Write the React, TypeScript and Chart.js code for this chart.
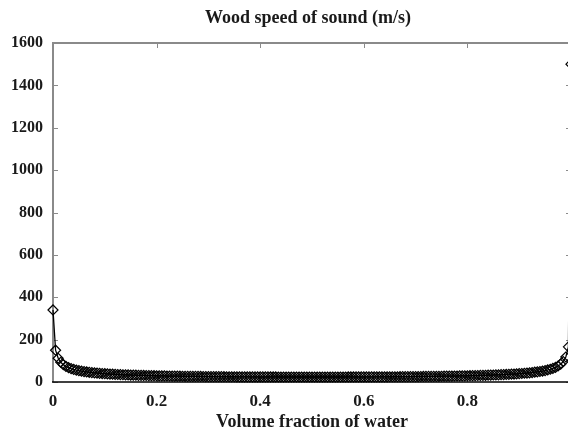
import { useEffect, useRef } from "react";
import { Chart, registerables } from "chart.js";

Chart.register(...registerables);

const chartTitle = "Wood speed of sound (m/s)";
const xAxisTitle = "Volume fraction of water";

const waterFraction = [
  0, 0.005, 0.01, 0.015, 0.02, 0.025, 0.03, 0.035, 0.04, 0.045,
  0.05, 0.055, 0.06, 0.065, 0.07, 0.075, 0.08, 0.085, 0.09, 0.095,
  0.1, 0.105, 0.11, 0.115, 0.12, 0.125, 0.13, 0.135, 0.14, 0.145,
  0.15, 0.155, 0.16, 0.165, 0.17, 0.175, 0.18, 0.185, 0.19, 0.195,
  0.2, 0.205, 0.21, 0.215, 0.22, 0.225, 0.23, 0.235, 0.24, 0.245,
  0.25, 0.255, 0.26, 0.265, 0.27, 0.275, 0.28, 0.285, 0.29, 0.295,
  0.3, 0.305, 0.31, 0.315, 0.32, 0.325, 0.33, 0.335, 0.34, 0.345,
  0.35, 0.355, 0.36, 0.365, 0.37, 0.375, 0.38, 0.385, 0.39, 0.395,
  0.4, 0.405, 0.41, 0.415, 0.42, 0.425, 0.43, 0.435, 0.44, 0.445,
  0.45, 0.455, 0.46, 0.465, 0.47, 0.475, 0.48, 0.485, 0.49, 0.495,
  0.5, 0.505, 0.51, 0.515, 0.52, 0.525, 0.53, 0.535, 0.54, 0.545,
  0.55, 0.555, 0.56, 0.565, 0.57, 0.575, 0.58, 0.585, 0.59, 0.595,
  0.6, 0.605, 0.61, 0.615, 0.62, 0.625, 0.63, 0.635, 0.64, 0.645,
  0.65, 0.655, 0.66, 0.665, 0.67, 0.675, 0.68, 0.685, 0.69, 0.695,
  0.7, 0.705, 0.71, 0.715, 0.72, 0.725, 0.73, 0.735, 0.74, 0.745,
  0.75, 0.755, 0.76, 0.765, 0.77, 0.775, 0.78, 0.785, 0.79, 0.795,
  0.8, 0.805, 0.81, 0.815, 0.82, 0.825, 0.83, 0.835, 0.84, 0.845,
  0.85, 0.855, 0.86, 0.865, 0.87, 0.875, 0.88, 0.885, 0.89, 0.895,
  0.9, 0.905, 0.91, 0.915, 0.92, 0.925, 0.93, 0.935, 0.94, 0.945,
  0.95, 0.955, 0.96, 0.965, 0.97, 0.975, 0.98, 0.985, 0.99, 0.995,
  1,
];

const speedOfSound = [
  340, 150.0, 111.9, 93.3, 81.8, 73.7, 67.7, 63.1, 59.3, 56.1,
  53.4, 51.1, 49.1, 47.4, 45.8, 44.4, 43.1, 42.0, 40.9, 39.9,
  39.1, 38.2, 37.5, 36.8, 36.1, 35.5, 34.9, 34.3, 33.8, 33.3,
  32.9, 32.4, 32.0, 31.6, 31.3, 30.9, 30.6, 30.3, 30.0, 29.7,
  29.4, 29.1, 28.9, 28.6, 28.4, 28.2, 27.9, 27.7, 27.5, 27.3,
  27.2, 27.0, 26.8, 26.6, 26.5, 26.3, 26.2, 26.1, 25.9, 25.8,
  25.7, 25.6, 25.4, 25.3, 25.2, 25.1, 25.0, 24.9, 24.8, 24.8,
  24.7, 24.6, 24.5, 24.4, 24.4, 24.3, 24.2, 24.2, 24.1, 24.1,
  24.0, 24.0, 23.9, 23.9, 23.8, 23.8, 23.8, 23.7, 23.7, 23.7,
  23.7, 23.6, 23.6, 23.6, 23.6, 23.6, 23.6, 23.6, 23.5, 23.5,
  23.5, 23.5, 23.5, 23.6, 23.6, 23.6, 23.6, 23.6, 23.6, 23.6,
  23.7, 23.7, 23.7, 23.7, 23.8, 23.8, 23.8, 23.9, 23.9, 24.0,
  24.0, 24.1, 24.1, 24.2, 24.3, 24.3, 24.4, 24.5, 24.5, 24.6,
  24.7, 24.8, 24.9, 24.9, 25.0, 25.1, 25.2, 25.3, 25.5, 25.6,
  25.7, 25.8, 26.0, 26.1, 26.2, 26.4, 26.5, 26.7, 26.8, 27.0,
  27.2, 27.4, 27.6, 27.8, 28.0, 28.2, 28.4, 28.7, 28.9, 29.2,
  29.4, 29.7, 30.0, 30.3, 30.7, 31.0, 31.4, 31.7, 32.1, 32.5,
  33.0, 33.5, 33.9, 34.5, 35.0, 35.6, 36.2, 36.9, 37.6, 38.4,
  39.3, 40.2, 41.2, 42.2, 43.4, 44.7, 46.2, 47.8, 49.6, 51.7,
  54.0, 56.8, 60.1, 64.1, 69.0, 75.4, 84.0, 96.7, 118.0, 166.0,
  1500,
];

const xTickValues = [0, 0.2, 0.4, 0.6, 0.8, 1];
const yTickValues = [0, 200, 400, 600, 800, 1000, 1200, 1400, 1600];

const FONT = "'Liberation Serif', 'Times New Roman', serif";
const TEXT = "#1a1a1a";
const FRAME_GRAY = "#8a8a8a";

export default function App() {
  const ref = useRef<HTMLCanvasElement | null>(null);

  useEffect(() => {
    document.documentElement.style.overflow = "hidden";
    document.body.style.margin = "0";
    document.body.style.overflow = "hidden";
    const canvas = ref.current;
    if (!canvas) return;

    const framePlugin = {
      id: "framePlugin",
      beforeDatasetsDraw(chart: any) {
        const { ctx, chartArea: a, scales } = chart;
        const xs = scales.x;
        const ys = scales.y;
        ctx.save();
        ctx.strokeStyle = FRAME_GRAY;
        ctx.lineWidth = 1;
        ctx.beginPath();
        for (const v of yTickValues) {
          const py = Math.round(ys.getPixelForValue(v)) + 0.5;
          ctx.moveTo(a.left, py);
          ctx.lineTo(a.left + 5, py);
          ctx.moveTo(a.right, py);
          ctx.lineTo(a.right - 5, py);
        }
        for (const v of xTickValues) {
          const px = Math.round(xs.getPixelForValue(v)) + 0.5;
          ctx.moveTo(px, a.bottom);
          ctx.lineTo(px, a.bottom - 5);
          ctx.moveTo(px, a.top);
          ctx.lineTo(px, a.top + 5);
        }
        ctx.stroke();
        ctx.lineWidth = 2;
        ctx.beginPath();
        ctx.moveTo(a.left, a.bottom);
        ctx.lineTo(a.left, a.top);
        ctx.lineTo(a.right, a.top);
        ctx.lineTo(a.right, a.bottom);
        ctx.stroke();
        ctx.strokeStyle = "#000";
        ctx.lineWidth = 1.5;
        ctx.beginPath();
        ctx.moveTo(a.left - 1, a.bottom);
        ctx.lineTo(a.right, a.bottom);
        ctx.stroke();
        ctx.restore();
      },
      afterDraw(chart: any) {
        const { ctx, chartArea: a } = chart;
        ctx.save();
        ctx.font = `bold 18px ${FONT}`;
        ctx.fillStyle = TEXT;
        ctx.textAlign = "center";
        ctx.textBaseline = "middle";
        ctx.fillText(chartTitle, (a.left + a.right) / 2 - 4, 18);
        ctx.restore();
      },
    };

    const chart = new Chart(canvas, {
      type: "line",
      data: {
        datasets: [
          {
            data: waterFraction.map((x, i) => ({ x, y: speedOfSound[i] })),
            borderColor: "#000",
            borderWidth: 1.3,
            pointStyle: "rectRot",
            pointRadius: 5,
            pointBorderColor: "#000",
            pointBorderWidth: 1.2,
            pointBackgroundColor: "rgba(0,0,0,0)",
            tension: 0,
            clip: false as any,
          },
        ],
      },
      options: {
        animation: false,
        responsive: false,
        devicePixelRatio: 1,
        layout: { padding: { top: 43, right: 8, left: 0, bottom: 0 } },
        plugins: {
          legend: { display: false },
          tooltip: { enabled: false },
          title: { display: false },
        },
        scales: {
          x: {
            type: "linear",
            min: 0,
            max: 1,
            grid: { display: false, drawTicks: false },
            border: { display: false },
            afterBuildTicks: (s: any) => {
              s.ticks = xTickValues.map((value) => ({ value }));
            },
            ticks: {
              padding: 9,
              maxRotation: 0,
              color: TEXT,
              font: { family: FONT, size: 17, weight: "bold" },
              callback: (v: any) => (Number(v) >= 1 ? "" : String(Math.round(Number(v) * 10) / 10)),
            },
            title: {
              display: true,
              text: xAxisTitle,
              color: TEXT,
              font: { family: FONT, size: 18, weight: "bold" },
              padding: { top: 0, bottom: 0 },
            },
            afterFit: (s: any) => {
              s.height = 51;
            },
          },
          y: {
            type: "linear",
            min: 0,
            max: 1600,
            grid: { display: false, drawTicks: false },
            border: { display: false },
            afterBuildTicks: (s: any) => {
              s.ticks = yTickValues.map((value) => ({ value }));
            },
            ticks: {
              padding: 10,
              color: TEXT,
              font: { family: FONT, size: 16, weight: "bold" },
              callback: (v: any) => String(v),
            },
            afterFit: (s: any) => {
              s.width = 53;
            },
          },
        },
      },
      plugins: [framePlugin],
    } as any);

    return () => chart.destroy();
  }, []);

  return (
    <div style={{ position: "fixed", left: 0, top: 0, width: 580, height: 433, background: "#fff" }}>
      <canvas ref={ref} width={580} height={433} style={{ display: "block" }} />
    </div>
  );
}
